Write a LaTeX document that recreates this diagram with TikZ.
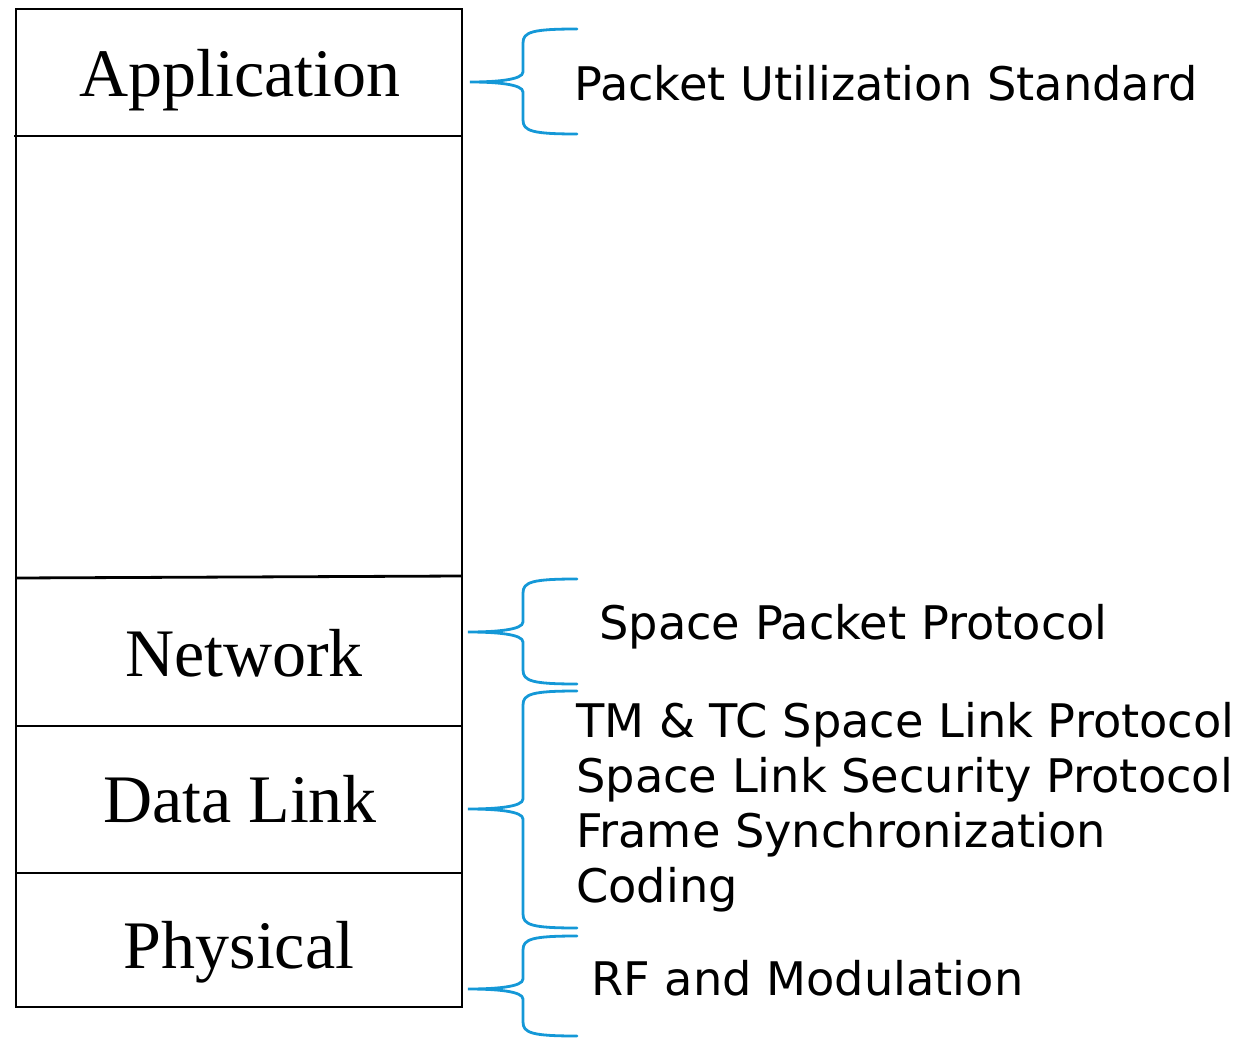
\documentclass[tikz,border=0pt]{standalone}
\usepackage{fontspec}
\setmainfont{Liberation Serif}
\newfontfamily\labelfont{DejaVu Sans}
\definecolor{braceblue}{RGB}{20,152,215}
\begin{document}
\begin{tikzpicture}[x=1pt,y=-1pt,
  layer/.style={draw=black,line width=2.8pt,inner sep=0pt},
  layertext/.style={inner sep=0pt,anchor=base,font=\fontsize{68}{68}\selectfont},
  desc/.style={inner sep=0pt,anchor=base west,font=\labelfont\fontsize{46.3}{46.3}\selectfont},
  bracecurve/.style={draw=braceblue,line width=2.8pt,line cap=round}]
\useasboundingbox (0,0) rectangle (1256,1038);
% layer boxes
\draw[layer] (16,9) rectangle (462,1007);
\draw[layer] (14,136) -- (462,136);
\draw[layer] (16,578) -- (462,576);
\draw[layer] (16,726) -- (462,726);
\draw[layer] (16,873) -- (462,873);
% layer labels
\node[layertext] (app) at (240,97) {Application};
\node[layertext] (net) at (244,676) {Network};
\node[layertext] (dl) at (240,822) {Data Link};
\node[layertext] (phy) at (239,968) {Physical};
% descriptions
\node[desc] (pus) at (574,101) {Packet Utilization Standard};
\node[desc] (spp) at (599,639) {Space Packet Protocol};
\node[desc] (tmtc) at (576,737) {TM \& TC Space Link Protocol};
\node[desc] (sls) at (576,792) {Space Link Security Protocol};
\node[desc] (fs) at (576,847) {Frame Synchronization};
\node[desc] (cod) at (576,902) {Coding};
\node[desc] (rf) at (591,995) {RF and Modulation};
% braces
\foreach \tp/\md/\bt/\tip in {29/82/134/470, 579/632/684/468, 691/809/928/468, 936/989/1036/468}{
  \draw[bracecurve] (577,\tp) .. controls (532,\tp) and (523,\tp+3) .. (523,\tp+14)
    -- (523,\md-10) .. controls (523,\md-2) and (495,\md) .. (\tip,\md)
    .. controls (495,\md) and (523,\md+2) .. (523,\md+10)
    -- (523,\bt-14) .. controls (523,\bt-3) and (532,\bt) .. (577,\bt);
}
\end{tikzpicture}
\end{document}
